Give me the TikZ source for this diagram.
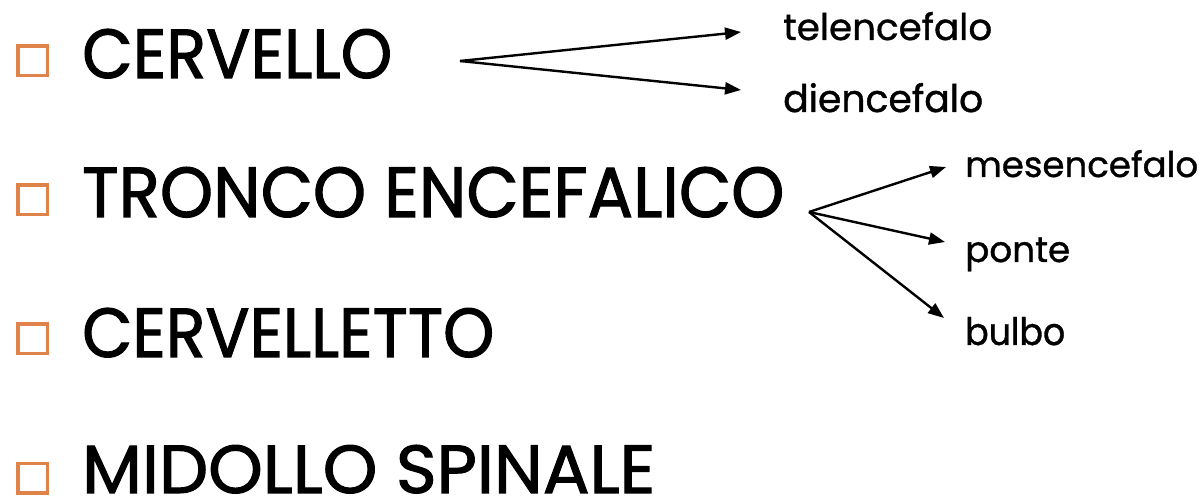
\documentclass[tikz,border=0pt]{standalone}
\usepackage{fontspec}
\setmainfont{Poppins}
\newfontfamily\heavyfont{Poppins}[UprightFeatures={FakeBold=1.6}]
\newfontfamily\medfont{Poppins}[UprightFeatures={FakeBold=1.0}]
\usetikzlibrary{arrows.meta}
\definecolor{bulletorange}{RGB}{224,131,74}
\tikzset{
  bulletbox/.style={draw=bulletorange,line width=3.5pt,minimum size=29.5pt,inner sep=0pt},
  maintext/.style={anchor=base west,inner sep=0pt,font=\heavyfont},
  subtext/.style={anchor=base west,inner sep=0pt,font=\medfont},
  branch/.style={line width=2.4pt,-{Triangle[length=16pt,width=12pt]}}
}
\begin{document}
\begin{tikzpicture}[x=1pt,y=1pt]
\useasboundingbox (0,0) rectangle (1204,498);
% bullets
\node[bulletbox] (b1) at (32.5,437) {};
\node[bulletbox] (b2) at (32.5,298) {};
\node[bulletbox] (b3) at (32.5,159) {};
\node[bulletbox] (b4) at (32.5,20) {};
% main items
\node[maintext] (cervello) at (82,420) {\resizebox{310pt}{49pt}{CERVELLO}};
\node[maintext] (tronco) at (82,281) {\resizebox{702pt}{50pt}{TRONCO ENCEFALICO}};
\node[maintext] (cervelletto) at (82,141) {\resizebox{412pt}{49pt}{CERVELLETTO}};
\node[maintext] (midollo) at (82,5) {\resizebox{573pt}{48pt}{MIDOLLO SPINALE}};
% sub items
\node[subtext] (tel) at (783,458) {\resizebox{209pt}{28pt}{telencefalo}};
\node[subtext] (dien) at (783,386) {\resizebox{200pt}{29pt}{diencefalo}};
\node[subtext] (mes) at (965,321) {\resizebox{233pt}{27pt}{mesencefalo}};
\node[subtext] (ponte) at (965,236) {\resizebox{105pt}{!}{ponte}};
\node[subtext] (bulbo) at (965,153) {\resizebox{100pt}{28pt}{bulbo}};
% connector points
\coordinate (s1) at (460,437);
\coordinate (t1) at (741,466);
\coordinate (t2) at (741,408);
\coordinate (s2) at (809,286);
\coordinate (t3) at (946,331);
\coordinate (t4) at (945,256);
\coordinate (t5) at (944,180);
\draw[branch] (s1) -- (t1);
\draw[branch] (s1) -- (t2);
\draw[branch] (s2) -- (t3);
\draw[branch] (s2) -- (t4);
\draw[branch] (s2) -- (t5);
\end{tikzpicture}
\end{document}
